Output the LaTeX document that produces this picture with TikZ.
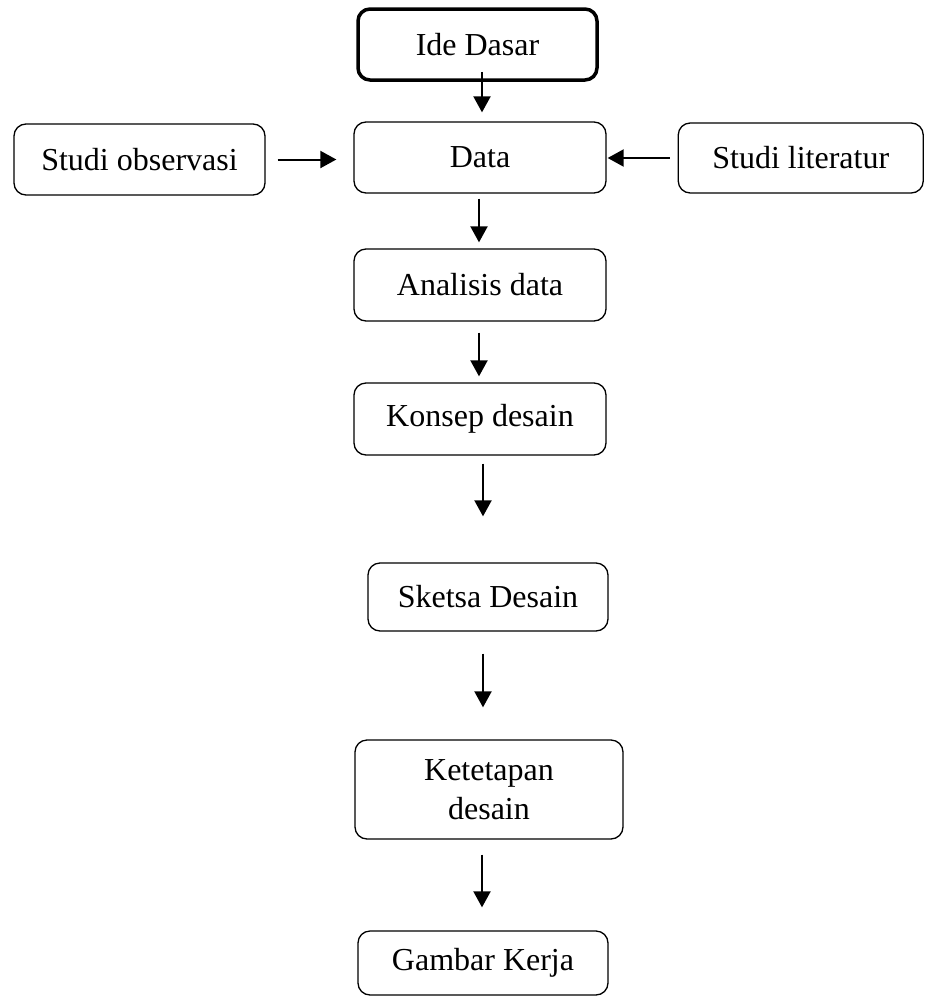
\documentclass[tikz,border=0pt]{standalone}
\usepackage{fontspec}
\setmainfont{Liberation Serif}
\usetikzlibrary{arrows.meta}
\begin{document}
\begin{tikzpicture}[x=1pt,y=-1pt,
  box/.style={draw=black, line width=1.3pt, rounded corners=12pt, inner sep=0pt, align=center,
     font=\fontsize{32}{39}\selectfont},
  thickbox/.style={box, line width=3.5pt},
  arr/.style={line width=2pt, -{Triangle[width=17pt,length=16pt]}}]
\useasboundingbox (0,0) rectangle (925,999);
\node[thickbox, minimum width=239pt, minimum height=71pt] (ide) at (477.5,44.5) {Ide Dasar};
\node[box, minimum width=252pt, minimum height=71pt] (data) at (480,157.5) {Data};
\node[box, minimum width=251pt, minimum height=71pt] (obs) at (139.5,159.5) {Studi observasi};
\node[box, minimum width=245pt, minimum height=70pt] (lit) at (800.75,158) {Studi literatur};
\node[box, minimum width=252pt, minimum height=72pt] (ana) at (480,285) {Analisis data};
\node[box, minimum width=252pt, minimum height=72pt] (kon) at (480,419) {Konsep desain};
\node[box, minimum width=240pt, minimum height=68pt] (sket) at (488,597) {Sketsa Desain};
\node[box, minimum width=268pt, minimum height=99pt] (ket) at (489,789.5) {Ketetapan\\desain};
\node[box, minimum width=250pt, minimum height=64pt] (gam) at (483,963) {Gambar Kerja};

\draw[arr, shorten <=-10pt, shorten >=9pt] (ide.south -| 482,0) -- (data.north -| 482,0);
\draw[arr, shorten <=12pt, shorten >=17pt] (obs.east) -- (obs.east -| data.west);
\draw[arr, shorten <=8pt, shorten >=1pt] (lit.west) -- (lit.west -| data.east);
\draw[arr, shorten <=5pt, shorten >=6pt] (data.south -| 479,0) -- (ana.north -| 479,0);
\draw[arr, shorten <=11pt, shorten >=6pt] (ana.south -| 479,0) -- (kon.north -| 479,0);
\draw[arr, shorten <=8pt, shorten >=46pt] (kon.south -| 483,0) -- (sket.north -| 483,0);
\draw[arr, shorten <=22pt, shorten >=32pt] (sket.south -| 483,0) -- (ket.north -| 483,0);
\draw[arr, shorten <=15pt, shorten >=23pt] (ket.south -| 482,0) -- (gam.north -| 482,0);
\end{tikzpicture}
\end{document}
